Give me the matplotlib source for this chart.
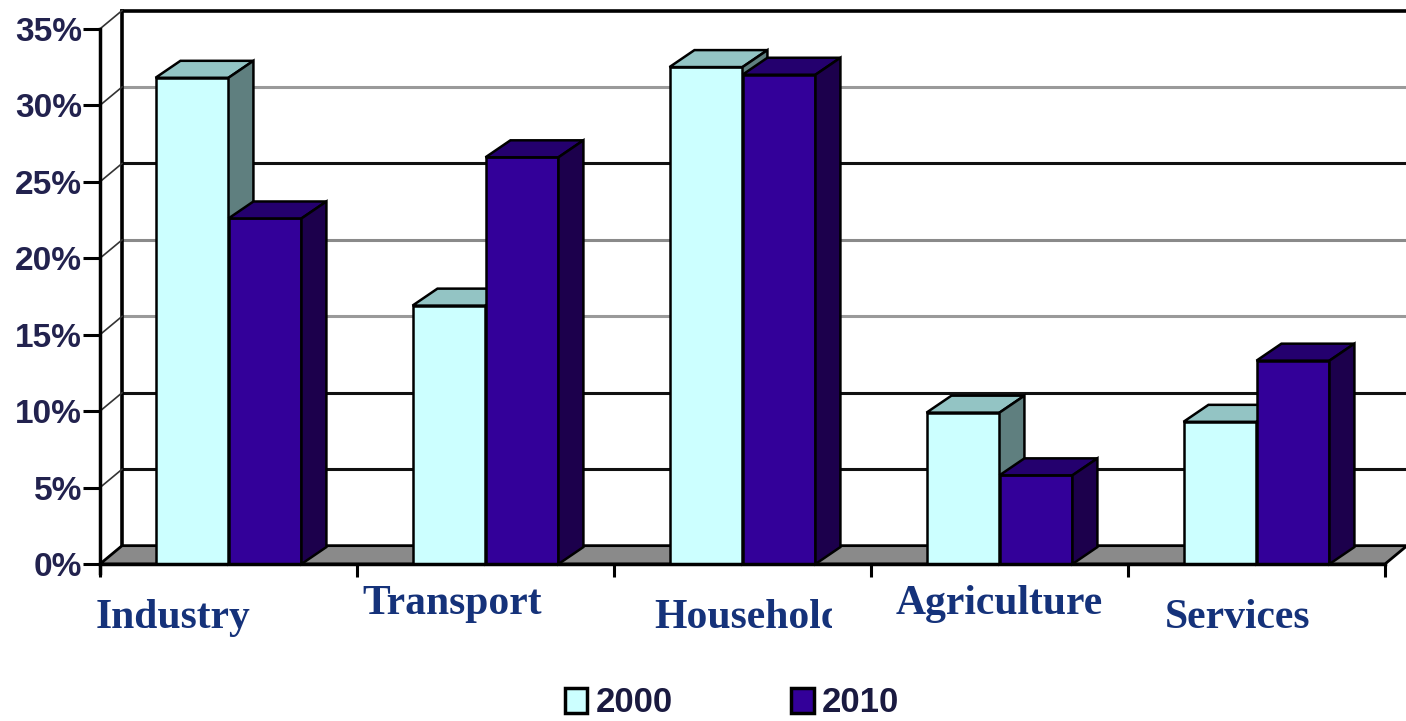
import matplotlib
matplotlib.use("Agg")
import matplotlib.pyplot as plt
from matplotlib.patches import Polygon, Patch
from matplotlib.transforms import Bbox, TransformedBbox
import numpy as np

# --- data ---
categories = ["Industry", "Transport", "Household", "Agriculture", "Services"]
share_2000 = [31.8, 16.9, 32.5, 9.9, 9.3]
share_2010 = [22.6, 26.6, 32.0, 5.8, 13.3]
series_labels = ["2000", "2010"]
y_ticks = [0, 5, 10, 15, 20, 25, 30, 35]

# --- styling / layout ---
FRONT = {"2000": "#CCFFFF", "2010": "#330099"}
TOP = {"2000": "#93C4C4", "2010": "#24006E"}
SIDE = {"2000": "#5F7F7F", "2010": "#1C004C"}
LABEL_COLOR = "#15327A"
TICK_COLOR = "#22224E"

BAR_W = 0.284
BAR_DX, BAR_DY = 0.097, 1.11      # bar depth (category units, percent)
WALL_DX, WALL_DY = 0.086, 1.2     # wall / floor depth
GRID_COLORS = {5: "#111111", 10: "#111111", 15: "#9a9a9a", 20: "#8a8a8a",
               25: "#111111", 30: "#9a9a9a"}
LABEL_DX = [-0.215, -0.13, 0.025, 0.0, -0.075]
LABEL_Y = [-3.55, -2.6, -3.55, -2.6, -3.55]

fig = plt.figure(figsize=(14.06, 7.21), dpi=100)
ax = fig.add_axes([100 / 1406, (721 - 576) / 721, 1306 / 1406, 576 / 721])
xmax = -0.5 + 1306 / 257
ax.set_xlim(-0.5, xmax)
ax.set_ylim((564 - 576) / 15.29, 564 / 15.29)

x = np.arange(len(categories))


def box3d(x0, h, color_key, z):
    """top and side faces of a bar whose front face starts at x0"""
    top = Polygon([(x0, h), (x0 + BAR_W, h), (x0 + BAR_W + BAR_DX, h + BAR_DY),
                   (x0 + BAR_DX, h + BAR_DY)], closed=True,
                  facecolor=TOP[color_key], edgecolor="black", lw=1.8, zorder=z)
    side = Polygon([(x0 + BAR_W, 0), (x0 + BAR_W + BAR_DX, BAR_DY),
                    (x0 + BAR_W + BAR_DX, h + BAR_DY), (x0 + BAR_W, h)], closed=True,
                   facecolor=SIDE[color_key], edgecolor="black", lw=1.8, zorder=z)
    ax.add_patch(top)
    ax.add_patch(side)


# --- back wall, left wall and floor ---
for v in y_ticks[1:-1]:
    ax.plot([-0.5 + WALL_DX, xmax], [v + WALL_DY] * 2, color=GRID_COLORS[v],
            lw=2.2, zorder=1, solid_capstyle="butt")
ax.plot([-0.5 + WALL_DX, xmax], [35 + WALL_DY] * 2, color="black", lw=2.6, zorder=1)
ax.plot([-0.5 + WALL_DX] * 2, [WALL_DY, 35 + WALL_DY], color="black", lw=2.6, zorder=1)
for v in y_ticks:
    ax.plot([-0.5, -0.5 + WALL_DX], [v, v + WALL_DY], color="#333333", lw=1.2, zorder=1)

floor = Polygon([(-0.5, 0), (4.5, 0), (4.5 + WALL_DX, WALL_DY), (-0.5 + WALL_DX, WALL_DY)],
                closed=True, facecolor="#8a8a8a", edgecolor="black", lw=2, zorder=1.5)
ax.add_patch(floor)

# --- bars ---
for vals, key, offset, z in [(share_2000, "2000", -BAR_W, 3), (share_2010, "2010", 0.0, 4)]:
    for xi, h in zip(x, vals):
        x0 = xi + offset
        ax.bar(x0, h, width=BAR_W, align="edge", color=FRONT[key],
               edgecolor="black", lw=1.8, zorder=z)
        box3d(x0, h, key, z)

# --- axes ---
for s in ["top", "right"]:
    ax.spines[s].set_visible(False)
ax.spines["left"].set_bounds(-0.6, 35)
ax.spines["left"].set_linewidth(2.5)
ax.spines["bottom"].set_position(("data", 0))
ax.spines["bottom"].set_bounds(-0.5, 4.5)
ax.spines["bottom"].set_linewidth(2.5)
ax.spines["bottom"].set_zorder(5)

ax.set_yticks(y_ticks)
ax.set_yticklabels([f"{v}%" for v in y_ticks], fontweight="bold",
                   family="Liberation Sans")
ax.tick_params(axis="y", length=12, width=2.2, pad=1, labelsize=24, labelcolor=TICK_COLOR)
ax.set_xticks(np.arange(-0.5, 5.0, 1.0))
ax.set_xticklabels([])
ax.tick_params(axis="x", direction="out", length=9, width=2.2)

clip = TransformedBbox(Bbox([[0, 0], [832 / 1406, 1]]), fig.transFigure)
for i, name in enumerate(categories):
    t = ax.text(x[i] + LABEL_DX[i], LABEL_Y[i], name, ha="center", va="center",
                fontsize=30, fontweight="bold", family="Liberation Serif",
                color=LABEL_COLOR)
    if name == "Household":
        t.set_clip_box(clip)
        t.set_clip_on(True)

# --- legend ---
handles = [Patch(facecolor=FRONT[k], edgecolor="black", lw=2.5) for k in series_labels]
fig.legend(handles, series_labels, loc="center",
           bbox_to_anchor=(732 / 1406, (721 - 703) / 721), ncol=2, frameon=False,
           prop=dict(weight="bold", size=25, family="Liberation Sans"),
           handlelength=0.65, handleheight=0.7, handletextpad=0.25,
           columnspacing=3.4, labelcolor="#1A1A40")

fig.savefig("out.png", dpi=100)
